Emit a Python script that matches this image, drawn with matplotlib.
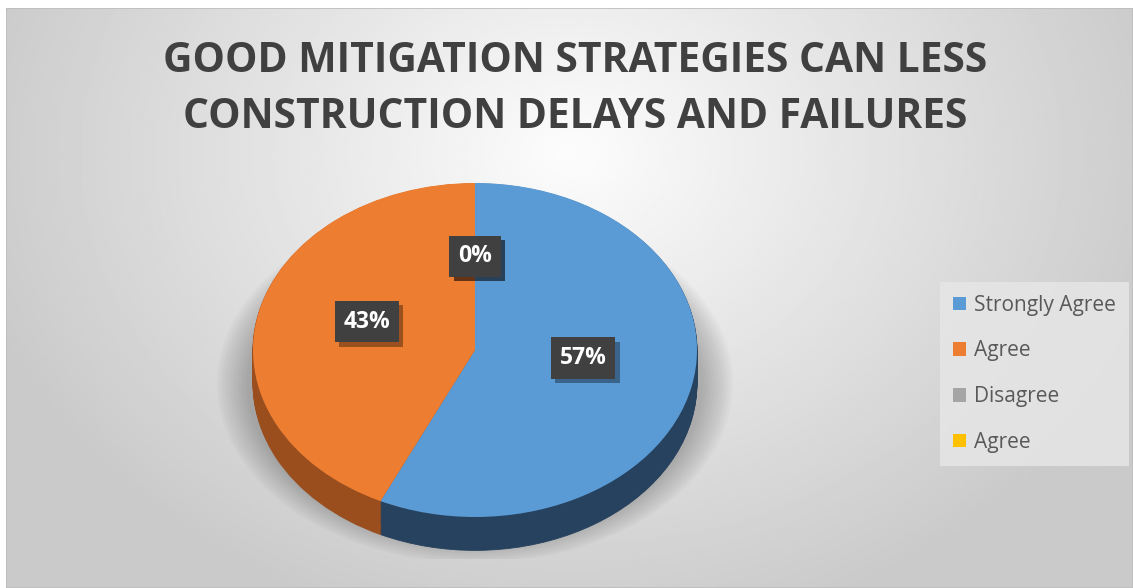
import numpy as np
import matplotlib
matplotlib.use("Agg")
from matplotlib import pyplot as plt
from matplotlib import patheffects as pe
from matplotlib.patches import Ellipse, Rectangle

# data
labels = ["Strongly Agree", "Agree", "Disagree", "Agree"]
values = [57, 43, 0, 0]
colors = ["#5B9BD5", "#ED7D31", "#A5A5A5", "#FFC000"]
side_colors = ["#27425E", "#9A4E1E", "#5a5a5a", "#8a6a00"]
title_lines = ["GOOD MITIGATION STRATEGIES CAN LESS", "CONSTRUCTION DELAYS AND FAILURES"]

W, H = 1133, 588
fig = plt.figure(figsize=(W / 100, H / 100), dpi=100)
fig.patch.set_facecolor("white")

# background with radial gradient
bg = fig.add_axes([6 / W, 0, (W - 6) / W, (H - 8) / H])
bg.axis("off")
yy, xx = np.mgrid[0:200, 0:400]
d = np.sqrt(((xx - 200) / 220.0) ** 2 + ((yy - 50) / 170.0) ** 2)
shade = np.clip(0.99 - 0.2 * d, 0.79, 1.0)
bg.imshow(shade, cmap="gray", vmin=0, vmax=1, aspect="auto", extent=[0, 1, 0, 1])
bg.add_patch(Rectangle((0, 0), 1, 1, transform=bg.transAxes, fill=False,
                       ec="#bdbdbd", lw=1.2))

# pie geometry in pixels
cx, cy = 475, 350
rx, ry = 222, 167
depth = 0.2

ax = fig.add_axes([(cx - 1.25 * rx) / W, (H - cy - 1.25 * ry) / H,
                   2.5 * rx / W, 2.5 * ry / H])

# soft shadow under pie
for i in range(12):
    s = 1.0 + i * 0.012
    ax.add_patch(Ellipse((0, -0.2), 2 * s + 0.06, 2 * s * 0.95, fc="#000000",
                         alpha=0.018, ec="none", zorder=0))

# side of the 3D pie: stacked layers
n = 30
for k in np.linspace(depth, 0.005, n):
    ax.pie(values, colors=side_colors, startangle=90, counterclock=False,
           center=(0, -k), radius=1, wedgeprops=dict(lw=0.6, ec=None),
           frame=False)
    for w in ax.patches[-4:]:
        w.set_edgecolor(w.get_facecolor())
        w.set_zorder(1)

wedges, texts, autotexts = ax.pie(values, colors=colors, startangle=90,
                                  counterclock=False, radius=1,
                                  autopct="%1.0f%%", pctdistance=0.5,
                                  wedgeprops=dict(lw=0))
for w in wedges:
    w.set_zorder(2)

for t in autotexts:
    t.set_y(t.get_position()[1] + 0.06)
    t.set_color("white")
    t.set_fontsize(16.5)
    t.set_fontweight("bold")
    t.set_fontfamily("Open Sans")
    t.set_zorder(5)
    t.set_bbox(dict(boxstyle="square,pad=0.38", fc="#404040", ec="none"))
    t.get_bbox_patch().set_path_effects([
        pe.SimplePatchShadow(offset=(3, -3), shadow_rgbFace="black", alpha=0.35),
        pe.Normal()])

ax.set_aspect("auto")
ax.set_xlim(-1.25, 1.25)
ax.set_ylim(-1.25, 1.25)
ax.axis("off")

# title
fig.text(575 / W, 1 - 62 / H, title_lines[0], ha="center", va="center",
         fontsize=29.3, fontweight="bold", color="#404040", family="Open Sans")
fig.text(575 / W, 1 - 118 / H, title_lines[1], ha="center", va="center",
         fontsize=29.3, fontweight="bold", color="#404040", family="Open Sans")

# legend
leg = fig.legend(wedges, labels, loc="upper left",
                 bbox_to_anchor=(940 / W, 1 - 282 / H),
                 frameon=True, fancybox=False,
                 prop={"family": "Open Sans", "size": 15},
                 labelcolor="#595959", handlelength=0.63, handleheight=0.63,
                 handletextpad=0.4, labelspacing=1.18, borderpad=0.62,
                 borderaxespad=0)
leg.get_frame().set_facecolor("#e6e6e6")
leg.get_frame().set_edgecolor("none")
leg.get_frame().set_alpha(0.85)

fig.savefig("out.png", dpi=100)
